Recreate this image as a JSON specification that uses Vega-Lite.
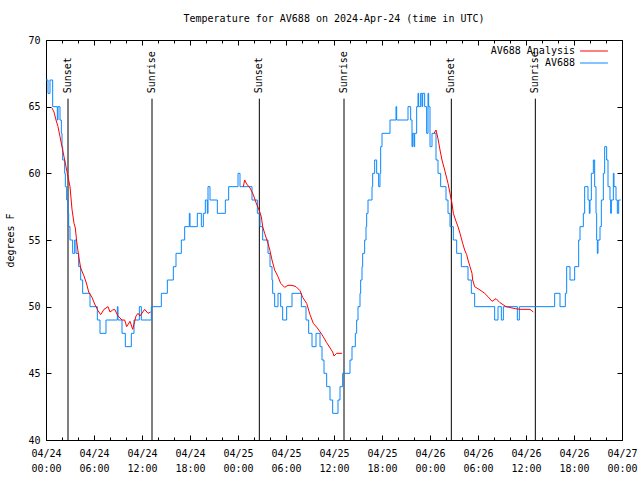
{
  "$schema": "https://vega.github.io/schema/vega-lite/v6.json",
  "width": 576,
  "height": 400,
  "autosize": "none",
  "padding": {"left": 46, "top": 40, "right": 18, "bottom": 40},
  "background": "white",
  "title": {"text": "Temperature for AV688 on 2024-Apr-24 (time in UTC)", "font": "DejaVu Sans Mono", "fontSize": 10, "fontWeight": "normal", "color": "black", "offset": 11},
  "config": {
    "view": {"stroke": "black", "strokeWidth": 1},
    "axis": {"labelFont": "DejaVu Sans Mono", "labelFontSize": 10, "labelColor": "black", "titleFont": "DejaVu Sans Mono", "titleFontSize": 10, "titleFontWeight": "normal", "titleColor": "black", "domain": false, "grid": false, "tickColor": "black", "tickWidth": 1}
  },
  "datasets": {
    "sun": [
      {"t": "2024-04-24T02:45Z", "label": "Sunset"},
      {"t": "2024-04-24T13:15Z", "label": "Sunrise"},
      {"t": "2024-04-25T02:40Z", "label": "Sunset"},
      {"t": "2024-04-25T13:15Z", "label": "Sunrise"},
      {"t": "2024-04-26T02:40Z", "label": "Sunset"},
      {"t": "2024-04-26T13:10Z", "label": "Sunrise"}
    ],
    "obs": [
      {"t":"2024-04-24T00:00Z","v":67},{"t":"2024-04-24T00:15Z","v":66},{"t":"2024-04-24T00:30Z","v":67},{"t":"2024-04-24T00:50Z","v":65},
      {"t":"2024-04-24T01:25Z","v":64},{"t":"2024-04-24T01:30Z","v":65},{"t":"2024-04-24T01:45Z","v":64},{"t":"2024-04-24T01:55Z","v":63},
      {"t":"2024-04-24T02:00Z","v":62},{"t":"2024-04-24T02:05Z","v":61},{"t":"2024-04-24T02:20Z","v":60},{"t":"2024-04-24T02:25Z","v":59},
      {"t":"2024-04-24T02:35Z","v":58},{"t":"2024-04-24T02:45Z","v":57},{"t":"2024-04-24T02:50Z","v":56},{"t":"2024-04-24T03:00Z","v":55},
      {"t":"2024-04-24T03:20Z","v":54},{"t":"2024-04-24T03:35Z","v":55},{"t":"2024-04-24T03:45Z","v":54},{"t":"2024-04-24T04:05Z","v":53},
      {"t":"2024-04-24T04:20Z","v":52},{"t":"2024-04-24T04:35Z","v":51},{"t":"2024-04-24T05:30Z","v":50},{"t":"2024-04-24T06:25Z","v":49},
      {"t":"2024-04-24T06:45Z","v":48},{"t":"2024-04-24T07:30Z","v":49},{"t":"2024-04-24T08:55Z","v":50},{"t":"2024-04-24T09:00Z","v":49},
      {"t":"2024-04-24T09:30Z","v":48},{"t":"2024-04-24T09:55Z","v":47},{"t":"2024-04-24T10:40Z","v":48},{"t":"2024-04-24T11:00Z","v":49},
      {"t":"2024-04-24T11:40Z","v":50},{"t":"2024-04-24T11:55Z","v":49},{"t":"2024-04-24T13:10Z","v":50},{"t":"2024-04-24T14:25Z","v":51},
      {"t":"2024-04-24T15:10Z","v":52},{"t":"2024-04-24T15:55Z","v":53},{"t":"2024-04-24T16:15Z","v":54},{"t":"2024-04-24T16:55Z","v":55},
      {"t":"2024-04-24T17:20Z","v":56},{"t":"2024-04-24T17:55Z","v":57},{"t":"2024-04-24T18:00Z","v":56},{"t":"2024-04-24T18:55Z","v":57},
      {"t":"2024-04-24T19:25Z","v":56},{"t":"2024-04-24T19:40Z","v":57},{"t":"2024-04-24T19:55Z","v":58},{"t":"2024-04-24T20:10Z","v":57},
      {"t":"2024-04-24T20:15Z","v":59},{"t":"2024-04-24T20:30Z","v":58},{"t":"2024-04-24T21:25Z","v":57},{"t":"2024-04-24T22:25Z","v":58},
      {"t":"2024-04-24T22:50Z","v":59},{"t":"2024-04-25T00:00Z","v":60},{"t":"2024-04-25T00:15Z","v":59},{"t":"2024-04-25T01:45Z","v":58},
      {"t":"2024-04-25T02:25Z","v":57},{"t":"2024-04-25T02:45Z","v":56},{"t":"2024-04-25T03:05Z","v":55},{"t":"2024-04-25T03:45Z","v":54},
      {"t":"2024-04-25T04:00Z","v":53},{"t":"2024-04-25T04:15Z","v":52},{"t":"2024-04-25T04:20Z","v":51},{"t":"2024-04-25T04:35Z","v":50},
      {"t":"2024-04-25T05:00Z","v":51},{"t":"2024-04-25T05:20Z","v":50},{"t":"2024-04-25T05:35Z","v":49},{"t":"2024-04-25T06:05Z","v":50},
      {"t":"2024-04-25T06:45Z","v":51},{"t":"2024-04-25T07:55Z","v":50},{"t":"2024-04-25T08:30Z","v":49},{"t":"2024-04-25T08:50Z","v":48},
      {"t":"2024-04-25T09:15Z","v":47},{"t":"2024-04-25T09:45Z","v":48},{"t":"2024-04-25T10:15Z","v":47},{"t":"2024-04-25T10:30Z","v":46},
      {"t":"2024-04-25T10:45Z","v":45},{"t":"2024-04-25T11:05Z","v":44},{"t":"2024-04-25T11:30Z","v":43},{"t":"2024-04-25T11:50Z","v":42},
      {"t":"2024-04-25T12:30Z","v":43},{"t":"2024-04-25T12:45Z","v":44},{"t":"2024-04-25T13:05Z","v":45},{"t":"2024-04-25T14:00Z","v":46},
      {"t":"2024-04-25T14:15Z","v":47},{"t":"2024-04-25T14:40Z","v":48},{"t":"2024-04-25T14:50Z","v":49},{"t":"2024-04-25T15:00Z","v":50},
      {"t":"2024-04-25T15:15Z","v":51},{"t":"2024-04-25T15:20Z","v":52},{"t":"2024-04-25T15:30Z","v":53},{"t":"2024-04-25T15:35Z","v":54},
      {"t":"2024-04-25T15:50Z","v":55},{"t":"2024-04-25T16:00Z","v":56},{"t":"2024-04-25T16:05Z","v":57},{"t":"2024-04-25T16:15Z","v":58},
      {"t":"2024-04-25T16:45Z","v":59},{"t":"2024-04-25T16:50Z","v":60},{"t":"2024-04-25T17:05Z","v":61},{"t":"2024-04-25T17:20Z","v":60},
      {"t":"2024-04-25T17:35Z","v":59},{"t":"2024-04-25T17:45Z","v":60},{"t":"2024-04-25T17:50Z","v":62},{"t":"2024-04-25T18:00Z","v":63},
      {"t":"2024-04-25T19:00Z","v":64},{"t":"2024-04-25T19:45Z","v":65},{"t":"2024-04-25T19:50Z","v":64},{"t":"2024-04-25T21:15Z","v":65},
      {"t":"2024-04-25T21:35Z","v":64},{"t":"2024-04-25T21:45Z","v":62},{"t":"2024-04-25T21:50Z","v":63},{"t":"2024-04-25T22:00Z","v":62},
      {"t":"2024-04-25T22:05Z","v":63},{"t":"2024-04-25T22:20Z","v":65},{"t":"2024-04-25T22:30Z","v":66},{"t":"2024-04-25T22:35Z","v":65},
      {"t":"2024-04-25T22:50Z","v":66},{"t":"2024-04-25T23:00Z","v":65},{"t":"2024-04-25T23:05Z","v":66},{"t":"2024-04-25T23:20Z","v":65},
      {"t":"2024-04-25T23:35Z","v":63},{"t":"2024-04-25T23:45Z","v":66},{"t":"2024-04-25T23:50Z","v":65},{"t":"2024-04-26T00:00Z","v":62},
      {"t":"2024-04-26T00:15Z","v":63},{"t":"2024-04-26T00:45Z","v":61},{"t":"2024-04-26T01:00Z","v":60},{"t":"2024-04-26T01:20Z","v":59},
      {"t":"2024-04-26T02:00Z","v":58},{"t":"2024-04-26T02:15Z","v":57},{"t":"2024-04-26T02:30Z","v":56},{"t":"2024-04-26T02:55Z","v":55},
      {"t":"2024-04-26T03:20Z","v":54},{"t":"2024-04-26T03:55Z","v":53},{"t":"2024-04-26T04:45Z","v":52},{"t":"2024-04-26T05:10Z","v":51},
      {"t":"2024-04-26T05:35Z","v":50},{"t":"2024-04-26T08:05Z","v":49},{"t":"2024-04-26T08:30Z","v":50},{"t":"2024-04-26T08:55Z","v":49},
      {"t":"2024-04-26T09:10Z","v":50},{"t":"2024-04-26T10:55Z","v":49},{"t":"2024-04-26T11:10Z","v":50},{"t":"2024-04-26T15:35Z","v":51},
      {"t":"2024-04-26T16:15Z","v":50},{"t":"2024-04-26T16:55Z","v":51},{"t":"2024-04-26T17:05Z","v":53},{"t":"2024-04-26T17:30Z","v":52},
      {"t":"2024-04-26T18:05Z","v":53},{"t":"2024-04-26T18:35Z","v":55},{"t":"2024-04-26T18:45Z","v":56},{"t":"2024-04-26T19:10Z","v":57},
      {"t":"2024-04-26T19:20Z","v":59},{"t":"2024-04-26T19:45Z","v":58},{"t":"2024-04-26T19:55Z","v":57},{"t":"2024-04-26T20:00Z","v":58},
      {"t":"2024-04-26T20:10Z","v":60},{"t":"2024-04-26T20:25Z","v":61},{"t":"2024-04-26T20:35Z","v":59},{"t":"2024-04-26T20:45Z","v":57},
      {"t":"2024-04-26T20:50Z","v":55},{"t":"2024-04-26T20:55Z","v":54},{"t":"2024-04-26T21:00Z","v":55},{"t":"2024-04-26T21:15Z","v":56},
      {"t":"2024-04-26T21:25Z","v":58},{"t":"2024-04-26T21:40Z","v":60},{"t":"2024-04-26T21:50Z","v":62},{"t":"2024-04-26T22:05Z","v":61},
      {"t":"2024-04-26T22:15Z","v":59},{"t":"2024-04-26T22:30Z","v":58},{"t":"2024-04-26T22:35Z","v":57},{"t":"2024-04-26T22:40Z","v":58},
      {"t":"2024-04-26T22:55Z","v":60},{"t":"2024-04-26T23:00Z","v":59},{"t":"2024-04-26T23:15Z","v":58},{"t":"2024-04-26T23:25Z","v":57},
      {"t":"2024-04-26T23:35Z","v":58},{"t":"2024-04-26T23:50Z","v":58}
    ],
    "ana": [
      {"t":"2024-04-24T00:45Z","v":64.9,"seg":1},{"t":"2024-04-24T01:00Z","v":64.6,"seg":1},{"t":"2024-04-24T01:15Z","v":64.0,"seg":1},
      {"t":"2024-04-24T01:30Z","v":63.5,"seg":1},{"t":"2024-04-24T01:45Z","v":62.75,"seg":1},{"t":"2024-04-24T02:00Z","v":62.0,"seg":1},
      {"t":"2024-04-24T02:15Z","v":61.25,"seg":1},{"t":"2024-04-24T02:30Z","v":60.5,"seg":1},{"t":"2024-04-24T02:40Z","v":60.0,"seg":1},
      {"t":"2024-04-24T03:00Z","v":59.0,"seg":1},{"t":"2024-04-24T03:15Z","v":57.3,"seg":1},{"t":"2024-04-24T03:30Z","v":56.25,"seg":1},
      {"t":"2024-04-24T03:40Z","v":55.9,"seg":1},{"t":"2024-04-24T03:50Z","v":54.9,"seg":1},{"t":"2024-04-24T04:05Z","v":53.8,"seg":1},
      {"t":"2024-04-24T04:20Z","v":52.9,"seg":1},{"t":"2024-04-24T04:45Z","v":52.3,"seg":1},{"t":"2024-04-24T05:05Z","v":51.7,"seg":1},
      {"t":"2024-04-24T05:20Z","v":51.1,"seg":1},{"t":"2024-04-24T05:45Z","v":50.7,"seg":1},{"t":"2024-04-24T06:05Z","v":50.2,"seg":1},
      {"t":"2024-04-24T06:30Z","v":49.7,"seg":1},{"t":"2024-04-24T06:50Z","v":49.4,"seg":1},{"t":"2024-04-24T07:15Z","v":49.8,"seg":1},
      {"t":"2024-04-24T07:45Z","v":50.0,"seg":1},{"t":"2024-04-24T08:00Z","v":49.6,"seg":1},{"t":"2024-04-24T08:20Z","v":49.75,"seg":1},
      {"t":"2024-04-24T08:35Z","v":49.8,"seg":1},{"t":"2024-04-24T09:00Z","v":49.3,"seg":1},{"t":"2024-04-24T09:30Z","v":49.0,"seg":1},
      {"t":"2024-04-24T09:50Z","v":49.0,"seg":1},{"t":"2024-04-24T10:05Z","v":48.5,"seg":1},{"t":"2024-04-24T10:30Z","v":48.9,"seg":1},
      {"t":"2024-04-24T10:50Z","v":48.3,"seg":1},{"t":"2024-04-24T11:15Z","v":49.3,"seg":1},{"t":"2024-04-24T11:30Z","v":49.5,"seg":1},
      {"t":"2024-04-24T11:45Z","v":49.3,"seg":1},{"t":"2024-04-24T12:20Z","v":49.8,"seg":1},{"t":"2024-04-24T12:45Z","v":49.5,"seg":1},
      {"t":"2024-04-24T13:05Z","v":49.6,"seg":1},
      {"t":"2024-04-25T00:40Z","v":59.0,"seg":2},{"t":"2024-04-25T00:50Z","v":59.5,"seg":2},{"t":"2024-04-25T01:05Z","v":59.2,"seg":2},
      {"t":"2024-04-25T01:30Z","v":58.9,"seg":2},{"t":"2024-04-25T01:55Z","v":58.4,"seg":2},{"t":"2024-04-25T02:15Z","v":57.8,"seg":2},
      {"t":"2024-04-25T02:40Z","v":57.2,"seg":2},{"t":"2024-04-25T02:55Z","v":56.75,"seg":2},{"t":"2024-04-25T03:05Z","v":56.0,"seg":2},
      {"t":"2024-04-25T03:20Z","v":55.5,"seg":2},{"t":"2024-04-25T03:45Z","v":54.75,"seg":2},{"t":"2024-04-25T04:00Z","v":54.2,"seg":2},
      {"t":"2024-04-25T04:15Z","v":53.5,"seg":2},{"t":"2024-04-25T04:35Z","v":52.75,"seg":2},{"t":"2024-04-25T05:00Z","v":52.25,"seg":2},
      {"t":"2024-04-25T05:20Z","v":51.75,"seg":2},{"t":"2024-04-25T05:50Z","v":51.45,"seg":2},{"t":"2024-04-25T06:15Z","v":51.6,"seg":2},
      {"t":"2024-04-25T06:45Z","v":51.6,"seg":2},{"t":"2024-04-25T07:15Z","v":51.5,"seg":2},{"t":"2024-04-25T07:45Z","v":51.2,"seg":2},
      {"t":"2024-04-25T08:05Z","v":50.7,"seg":2},{"t":"2024-04-25T08:35Z","v":50.25,"seg":2},{"t":"2024-04-25T09:00Z","v":49.4,"seg":2},
      {"t":"2024-04-25T09:25Z","v":48.75,"seg":2},{"t":"2024-04-25T09:55Z","v":48.4,"seg":2},{"t":"2024-04-25T10:30Z","v":47.9,"seg":2},
      {"t":"2024-04-25T11:05Z","v":47.3,"seg":2},{"t":"2024-04-25T11:50Z","v":46.6,"seg":2},{"t":"2024-04-25T12:00Z","v":46.3,"seg":2},
      {"t":"2024-04-25T12:20Z","v":46.5,"seg":2},{"t":"2024-04-25T13:00Z","v":46.5,"seg":2},
      {"t":"2024-04-26T00:30Z","v":63.0,"seg":3},{"t":"2024-04-26T00:45Z","v":63.25,"seg":3},{"t":"2024-04-26T01:00Z","v":62.6,"seg":3},
      {"t":"2024-04-26T01:15Z","v":61.75,"seg":3},{"t":"2024-04-26T01:30Z","v":61.0,"seg":3},{"t":"2024-04-26T01:50Z","v":60.25,"seg":3},
      {"t":"2024-04-26T02:15Z","v":59.25,"seg":3},{"t":"2024-04-26T02:30Z","v":58.5,"seg":3},{"t":"2024-04-26T02:45Z","v":57.75,"seg":3},
      {"t":"2024-04-26T02:55Z","v":57.0,"seg":3},{"t":"2024-04-26T03:15Z","v":56.4,"seg":3},{"t":"2024-04-26T03:30Z","v":56.0,"seg":3},
      {"t":"2024-04-26T03:45Z","v":55.5,"seg":3},{"t":"2024-04-26T04:05Z","v":54.75,"seg":3},{"t":"2024-04-26T04:20Z","v":54.25,"seg":3},
      {"t":"2024-04-26T04:35Z","v":53.9,"seg":3},{"t":"2024-04-26T04:45Z","v":53.5,"seg":3},{"t":"2024-04-26T05:00Z","v":53.0,"seg":3},
      {"t":"2024-04-26T05:15Z","v":52.5,"seg":3},{"t":"2024-04-26T05:20Z","v":52.0,"seg":3},{"t":"2024-04-26T05:35Z","v":51.5,"seg":3},
      {"t":"2024-04-26T06:15Z","v":51.25,"seg":3},{"t":"2024-04-26T06:50Z","v":51.0,"seg":3},{"t":"2024-04-26T07:15Z","v":50.75,"seg":3},
      {"t":"2024-04-26T07:45Z","v":50.4,"seg":3},{"t":"2024-04-26T08:15Z","v":50.6,"seg":3},{"t":"2024-04-26T08:45Z","v":50.3,"seg":3},
      {"t":"2024-04-26T09:30Z","v":50.0,"seg":3},{"t":"2024-04-26T10:40Z","v":49.85,"seg":3},{"t":"2024-04-26T11:15Z","v":49.8,"seg":3},
      {"t":"2024-04-26T12:30Z","v":49.8,"seg":3},{"t":"2024-04-26T12:55Z","v":49.6,"seg":3}
    ]
  },
  "layer": [
    {
      "data": {"name": "sun"},
      "mark": {"type": "rule", "color": "black", "strokeWidth": 1},
      "encoding": {
        "x": {"field": "t", "type": "temporal",
              "scale": {"type": "utc", "domain": [1713916800000, 1714176000000]},
              "axis": {"orient": "bottom", "title": null, "offset": -5, "tickSize": 5,
                       "values": [1713916800000, 1713938400000, 1713960000000, 1713981600000, 1714003200000, 1714024800000, 1714046400000, 1714068000000, 1714089600000, 1714111200000, 1714132800000, 1714154400000, 1714176000000],
                       "labelExpr": "[utcFormat(datum.value, '%m/%d'), utcFormat(datum.value, '%H:%M')]",
                       "labelPadding": 8, "labelLineHeight": 15, "labelFlush": false, "labelOverlap": false}},
        "y": {"datum": 40, "type": "quantitative",
              "scale": {"domain": [40, 70], "nice": false, "zero": false},
              "axis": {"orient": "left", "title": "degrees F", "offset": -5, "values": [40, 45, 50, 55, 60, 65, 70], "tickSize": 5, "labelPadding": 6, "titlePadding": 12}},
        "y2": {"datum": 65.6}
      }
    },
    {
      "data": {"name": "sun"},
      "mark": {"type": "text", "angle": 270, "align": "left", "baseline": "middle", "font": "DejaVu Sans Mono", "fontSize": 10, "color": "black"},
      "encoding": {
        "x": {"field": "t", "type": "temporal",
              "axis": {"orient": "top", "title": null, "labels": false, "offset": -5, "tickSize": 5,
                       "values": [1713916800000, 1713938400000, 1713960000000, 1713981600000, 1714003200000, 1714024800000, 1714046400000, 1714068000000, 1714089600000, 1714111200000, 1714132800000, 1714154400000, 1714176000000]}},
        "y": {"datum": 66.0, "type": "quantitative",
              "axis": {"orient": "right", "title": null, "labels": false, "offset": -5, "tickSize": 5, "values": [40, 45, 50, 55, 60, 65, 70]}},
        "text": {"field": "label"}
      }
    },
    {
      "data": {"name": "obs"},
      "mark": {"type": "line", "interpolate": "step-after", "strokeWidth": 1},
      "encoding": {
        "x": {"field": "t", "type": "temporal",
              "axis": {"orient": "bottom", "title": null, "labels": false, "offset": -3, "tickSize": 3,
                       "values": [1713916800000, 1713924000000, 1713931200000, 1713938400000, 1713945600000, 1713952800000, 1713960000000, 1713967200000, 1713974400000, 1713981600000, 1713988800000, 1713996000000, 1714003200000, 1714010400000, 1714017600000, 1714024800000, 1714032000000, 1714039200000, 1714046400000, 1714053600000, 1714060800000, 1714068000000, 1714075200000, 1714082400000, 1714089600000, 1714096800000, 1714104000000, 1714111200000, 1714118400000, 1714125600000, 1714132800000, 1714140000000, 1714147200000, 1714154400000, 1714161600000, 1714168800000, 1714176000000]}},
        "y": {"field": "v", "type": "quantitative", "axis": null},
        "color": {"datum": "AV688",
                  "scale": {"domain": ["AV688 Analysis", "AV688"], "range": ["#ff0000", "#0a87ff"]},
                  "legend": {"orient": "none", "legendX": 543, "legendY": 6, "title": null, "symbolType": "M-5,0H5", "symbolSize": 31, "symbolStrokeWidth": 1,
                             "labelAlign": "right", "labelOffset": -24, "rowPadding": 2,
                             "labelFont": "DejaVu Sans Mono", "labelFontSize": 10, "labelColor": "black"}}
      }
    },
    {
      "data": {"name": "ana"},
      "mark": {"type": "line", "strokeWidth": 1},
      "encoding": {
        "x": {"field": "t", "type": "temporal",
              "axis": {"orient": "top", "title": null, "labels": false, "offset": -3, "tickSize": 3,
                       "values": [1713916800000, 1713924000000, 1713931200000, 1713938400000, 1713945600000, 1713952800000, 1713960000000, 1713967200000, 1713974400000, 1713981600000, 1713988800000, 1713996000000, 1714003200000, 1714010400000, 1714017600000, 1714024800000, 1714032000000, 1714039200000, 1714046400000, 1714053600000, 1714060800000, 1714068000000, 1714075200000, 1714082400000, 1714089600000, 1714096800000, 1714104000000, 1714111200000, 1714118400000, 1714125600000, 1714132800000, 1714140000000, 1714147200000, 1714154400000, 1714161600000, 1714168800000, 1714176000000]}},
        "y": {"field": "v", "type": "quantitative", "axis": null},
        "detail": {"field": "seg"},
        "color": {"datum": "AV688 Analysis"}
      }
    }
  ],
  "resolve": {"axis": {"x": "independent", "y": "independent"}}
}
